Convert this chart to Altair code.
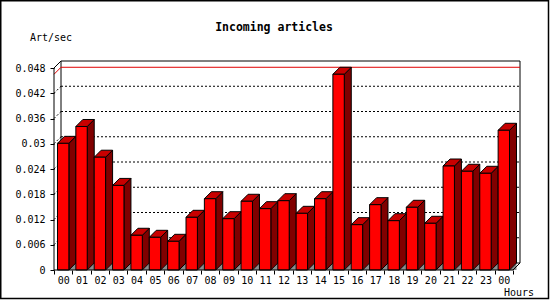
import json
import altair as alt
import pandas as pd

# ---------------- data ----------------
HOURS = ["00", "01", "02", "03", "04", "05", "06", "07", "08", "09", "10", "11",
         "12", "13", "14", "15", "16", "17", "18", "19", "20", "21", "22", "23", "00"]
RATES = [0.0301, 0.0341, 0.0268, 0.0201, 0.00825, 0.00777, 0.00682, 0.01252,
         0.01694, 0.01219, 0.01633, 0.01457, 0.01647, 0.01347, 0.01694, 0.04651,
         0.01077, 0.01552, 0.01172, 0.0149, 0.0111, 0.02471, 0.02346, 0.02298, 0.0332]
Y_TICKS = [0, 0.006, 0.012, 0.018, 0.024, 0.03, 0.036, 0.042, 0.048]
TITLE = "Incoming articles"
Y_LABEL = "Art/sec"
X_LABEL = "Hours"

# ---------------- geometry (pixels -> data units) ----------------
W, H = 466, 209
PAD_L, PAD_T = 54, 61
DEPTH = 7
N = len(HOURS)
SLOT = (W - DEPTH) / N
YMAX = Y_TICKS[-1]
PPU = (H - DEPTH) / YMAX
DX = DEPTH / SLOT
DY = DEPTH / PPU
HALF = 0.31
MONO = "DejaVu Sans Mono"

xs = alt.Scale(domain=[0, N + DX], nice=False, zero=False)
ys = alt.Scale(domain=[0, YMAX + DY], nice=False, zero=False)

label_expr = f"datum.value < {N} ? {json.dumps(HOURS)}[datum.value] : ''"
X_AXIS = alt.Axis(
    values=list(range(N + 1)), labelExpr=label_expr, labelOffset=SLOT / 2,
    tickSize=4, tickColor="black", domain=False, grid=False, title=None,
    labelFont=MONO, labelFontSize=10, labelColor="black", labelPadding=1,
    labelAngle=0, labelAlign="center", labelFlush=False, labelOverlap=False)
Y_AXIS = alt.Axis(
    values=Y_TICKS, format="~g", tickSize=4, tickColor="black", domain=False,
    grid=False, title=None, labelFont=MONO, labelFontSize=10, labelColor="black",
    labelPadding=5, labelOverlap=False, labelFlush=False)


def X(field):
    return alt.X(field, scale=xs, axis=X_AXIS)


def Y(field):
    return alt.Y(field, scale=ys, axis=Y_AXIS)


front = pd.DataFrame({
    "x": [i + 0.5 - HALF for i in range(N)],
    "x2": [i + 0.5 + HALF for i in range(N)],
    "y": [0.0] * N,
    "y2": RATES,
    "hour": HOURS,
})

side_rows, top_rows, shadow_rows = [], [], []
for i, v in enumerate(RATES):
    c = i + 0.5
    side_rows += [{"b": i, "x": c + HALF, "y": 0.0, "y2": v},
                  {"b": i, "x": c + HALF + DX, "y": DY, "y2": v + DY}]
    top_rows += [{"b": i, "y": v, "x": c - HALF, "x2": c + HALF},
                 {"b": i, "y": v + DY, "x": c - HALF + DX, "x2": c + HALF + DX}]
    shadow_rows += [{"b": i, "x": c + HALF, "y": 0.0, "y2": 0.0},
                    {"b": i, "x": c + HALF + DX, "y": 0.0, "y2": DY}]
side = pd.DataFrame(side_rows)
top = pd.DataFrame(top_rows)
shadow = pd.DataFrame(shadow_rows)

grid_vals = Y_TICKS[1:-1]
grid = pd.DataFrame({"x": [DX] * len(grid_vals), "x2": [N + DX] * len(grid_vals),
                     "y": [v + DY for v in grid_vals]})
grid_diag = pd.DataFrame({"x": [0.0] * len(grid_vals), "x2": [DX] * len(grid_vals),
                          "y": grid_vals, "y2": [v + DY for v in grid_vals]})

MAXV = max(RATES)
max_line = pd.DataFrame({"x": [DX, 0.0], "x2": [N + DX, DX],
                         "y": [MAXV + DY, MAXV], "y2": [MAXV + DY, MAXV + DY]})

back_frame = pd.DataFrame({
    "x": [DX, DX, N + DX, DX],
    "x2": [N + DX, DX, N + DX, N + DX],
    "y": [YMAX + DY, DY, DY, DY],
    "y2": [YMAX + DY, YMAX + DY, YMAX + DY, DY],
})
front_frame = pd.DataFrame({
    "x": [0.0, 0.0, 0.0, N],
    "x2": [0.0, N, DX, N + DX],
    "y": [0.0, 0.0, YMAX, 0.0],
    "y2": [YMAX, 0.0, YMAX + DY, DY],
})


def seg_layer(df, **mk):
    return alt.Chart(df).mark_rule(**mk).encode(
        x=X("x:Q"), x2="x2:Q", y=Y("y:Q"), y2="y2:Q")


grid_layer = alt.Chart(grid).mark_rule(color="black", strokeWidth=1, strokeDash=[2, 2]).encode(
    x=X("x:Q"), x2="x2:Q", y=Y("y:Q"))
grid_diag_layer = seg_layer(grid_diag, color="black", strokeWidth=1, strokeDash=[2, 2])
max_layer = seg_layer(max_line, color="#e00000", strokeWidth=1)
back_layer = seg_layer(back_frame, color="black", strokeWidth=1)
front_frame_layer = seg_layer(front_frame, color="black", strokeWidth=1)

shadow_layer = alt.Chart(shadow).mark_area(orient="vertical", color="#8c8c8c").encode(
    x=X("x:Q"), y=Y("y:Q"), y2="y2:Q", detail="b:N")

side_layer = alt.Chart(side).mark_area(orient="vertical", fill="#800000", stroke="black",
                                       strokeWidth=1, fillOpacity=1).encode(
    x=X("x:Q"), y=Y("y:Q"), y2="y2:Q", detail="b:N")

top_layer = alt.Chart(top).mark_area(orient="horizontal", fill="#c80000", stroke="black",
                                     strokeWidth=1, fillOpacity=1).encode(
    y=Y("y:Q"), x=X("x:Q"), x2="x2:Q", detail="b:N")

front_layer = alt.Chart(front).mark_rect(fill="#ff0000", stroke="black", strokeWidth=1).encode(
    x=X("x:Q"), x2="x2:Q", y=Y("y:Q"), y2="y2:Q")

title_layer = alt.Chart(pd.DataFrame({"t": [TITLE]})).mark_text(
    font=MONO, fontSize=11.5, fontWeight="bold", align="center", baseline="alphabetic",
    color="black").encode(x=alt.value(274 - PAD_L), y=alt.value(30.5 - PAD_T), text="t:N")
ylab_layer = alt.Chart(pd.DataFrame({"t": [Y_LABEL]})).mark_text(
    font=MONO, fontSize=10, align="left", baseline="alphabetic", color="black").encode(
    x=alt.value(30 - PAD_L), y=alt.value(40.5 - PAD_T), text="t:N")
xlab_layer = alt.Chart(pd.DataFrame({"t": [X_LABEL]})).mark_text(
    font=MONO, fontSize=10, align="left", baseline="alphabetic", color="black").encode(
    x=alt.value(504 - PAD_L), y=alt.value(295.5 - PAD_T), text="t:N")

border_layer = alt.Chart(pd.DataFrame({"t": [0]})).mark_rect(
    filled=False, stroke="black", strokeWidth=1.5).encode(
    x=alt.value(0.75 - PAD_L), x2=alt.value(548.5 - PAD_L),
    y=alt.value(0.75 - PAD_T), y2=alt.value(298.5 - PAD_T))

chart = alt.layer(
    back_layer, grid_layer, grid_diag_layer, max_layer,
    shadow_layer, side_layer, top_layer, front_layer, front_frame_layer,
    title_layer, ylab_layer, xlab_layer, border_layer,
).properties(
    width=W, height=H,
    autosize=alt.AutoSizeParams(type="none"),
    padding={"left": PAD_L, "top": PAD_T, "right": 550 - PAD_L - W, "bottom": 300 - PAD_T - H},
    background="white",
).configure_view(stroke=None)

chart.save("out.html", embed_options={"renderer": "svg", "actions": False})
